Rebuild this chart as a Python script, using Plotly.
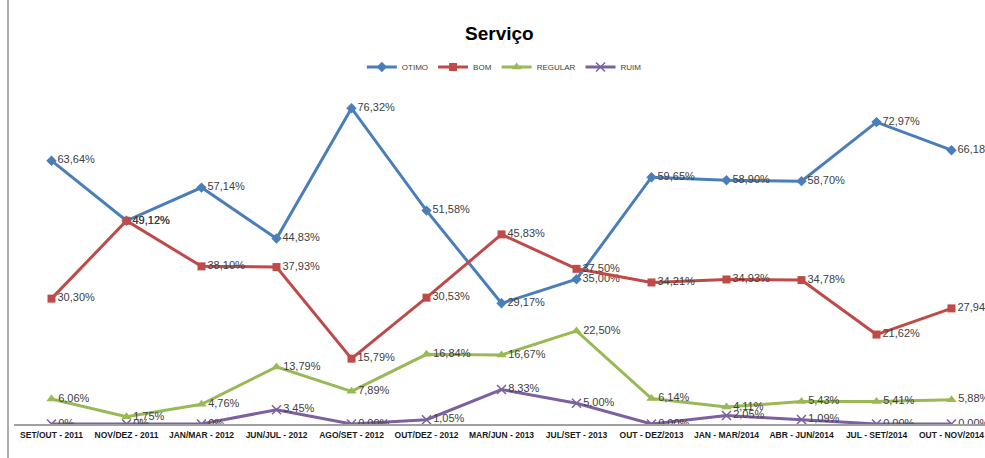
import plotly.graph_objects as go

categories = ["SET/OUT - 2011", "NOV/DEZ - 2011", "JAN/MAR - 2012", "JUN/JUL - 2012",
              "AGO/SET - 2012", "OUT/DEZ - 2012", "MAR/JUN - 2013", "JUL/SET - 2013",
              "OUT - DEZ/2013", "JAN - MAR/2014", "ABR - JUN/2014", "JUL - SET/2014",
              "OUT - NOV/2014"]
otimo = [63.64, 49.12, 57.14, 44.83, 76.32, 51.58, 29.17, 35.00, 59.65, 58.90, 58.70, 72.97, 66.18]
bom = [30.30, 49.12, 38.10, 37.93, 15.79, 30.53, 45.83, 37.50, 34.21, 34.93, 34.78, 21.62, 27.94]
regular = [6.06, 1.75, 4.76, 13.79, 7.89, 16.84, 16.67, 22.50, 6.14, 4.11, 5.43, 5.41, 5.88]
ruim = [0, 0, 0, 3.45, 0, 1.05, 8.33, 5.00, 0, 2.05, 1.09, 0, 0]
ruim_labels = ["0%", "0%", "0%"] + [f"{v:.2f}%".replace(".", ",") for v in ruim[3:]]


def fmt(vals):
    return [f"{v:.2f}%".replace(".", ",") for v in vals]


series = [
    ("OTIMO", otimo, fmt(otimo), "#4a7ebb", "diamond", 8),
    ("BOM", bom, fmt(bom), "#be4b48", "square", 8),
    ("REGULAR", regular, fmt(regular), "#98b954", "triangle-up", 9),
    ("RUIM", ruim, ruim_labels, "#7d60a0", "x-thin", 9),
]

fig = go.Figure()
for name, vals, labels, color, sym, size in series:
    marker = dict(symbol=sym, size=size, color=color)
    if sym == "x-thin":
        marker["line"] = dict(color=color, width=1.5)
    fig.add_trace(go.Scatter(
        x=categories, y=vals, name=name, mode="lines+markers+text",
        text=labels, textposition="middle right",
        textfont=dict(family="Liberation Sans, Arial, sans-serif", size=11, color="#404040"),
        line=dict(color=color, width=3), marker=marker,
        cliponaxis=True,
    ))

fig.update_layout(
    width=985, height=458,
    margin=dict(l=14, r=0, t=93, b=34),
    paper_bgcolor="white", plot_bgcolor="white",
    title=dict(text="<b>Serviço</b>", x=0.507, xanchor="center", y=1 - 33 / 458, yanchor="middle",
               yref="container", font=dict(family="Liberation Sans, Arial, sans-serif", size=19, color="#000000")),
    legend=dict(orientation="h", x=0.505, xanchor="center", y=1 + (93 - 67) / 331, yanchor="middle",
                font=dict(family="Liberation Sans, Arial, sans-serif", size=8, color="#404040"),
                itemwidth=30, bgcolor="rgba(0,0,0,0)"),
    showlegend=True,
    xaxis=dict(type="category", range=[-0.5, -0.5 + 971 / 75], showgrid=False, zeroline=False,
               showline=True, linecolor="#a0a0a0", linewidth=2, ticks="",
               tickvals=categories, ticktext=[f"<b>{c}</b>" for c in categories],
               tickfont=dict(family="Liberation Sans, Arial, sans-serif", size=8.5, color="#1a1a1a"),
               tickangle=0),
    yaxis=dict(range=[0, 80], visible=False, showgrid=False, zeroline=False),
    font=dict(family="Liberation Sans, Arial, sans-serif"),
)
fig.update_xaxes(ticklabelstandoff=2)
fig.add_shape(type="line", xref="paper", yref="paper", x0=-6 / 971, x1=-6 / 971, y0=-34 / 331, y1=1 + 93 / 331,
              line=dict(color="#b0b0b0", width=2))

fig.write_html("out.html")
